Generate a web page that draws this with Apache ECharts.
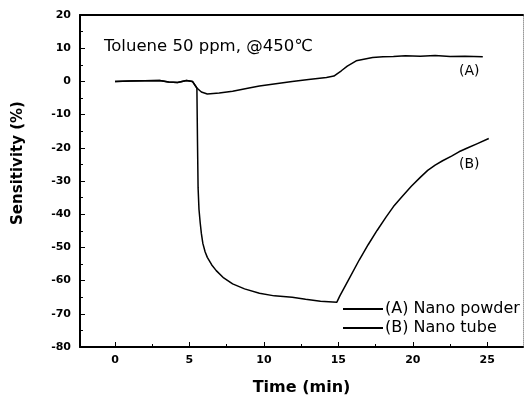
<!DOCTYPE html>
<html>
<head>
<meta charset="utf-8">
<script src="https://cdn.jsdelivr.net/npm/echarts@6/dist/echarts.min.js"></script>
<style>
html, body { margin: 0; padding: 0; background: #fff; }
#chart { width: 525px; height: 403px; }
</style>
</head>
<body>
<div id="chart"></div>
<script>
// values
var timeA = [0, 1, 2, 3, 3.6, 4.2, 4.8, 5.2, 5.5, 5.8, 6.2, 7, 7.9, 9, 9.7, 10.8, 11.9, 13, 14.2, 14.7, 15.2, 15.6, 16.2, 17.3, 18, 18.7, 19.5, 20.5, 21.5, 22.5, 23.5, 24.7];
var sensA = [0, 0.1, 0.2, 0.3, -0.2, -0.3, 0.3, 0, -2, -3.2, -3.8, -3.5, -3, -2, -1.4, -0.7, 0, 0.6, 1.2, 1.6, 3.2, 4.6, 6.2, 7.2, 7.4, 7.5, 7.7, 7.6, 7.8, 7.5, 7.6, 7.4];

var timeB = [0, 1, 2, 3, 3.6, 4.2, 4.8, 5.2, 5.5, 5.54, 5.58, 5.64, 5.72, 5.8, 5.9, 6.05, 6.2, 6.5, 6.8, 7.3, 7.9, 8.7, 9.7, 10.7, 11.9, 12.8, 13.8, 14.9,
    15.1, 15.7, 16.4, 17.0, 17.6, 18.2, 18.7, 19.3, 19.9, 20.5, 21.0, 21.5, 22.0, 22.6, 23.1, 23.7, 24.3, 25.1];
var sensB = [0, 0.1, 0.2, 0.3, -0.2, -0.3, 0.3, 0, -2, -18, -32, -38.5, -42.5, -45.8, -48.8, -51.3, -53, -55.3, -57, -59.2, -61, -62.5, -63.8, -64.6, -65, -65.6, -66.2, -66.5,
    -64.6, -59.6, -53.8, -49.2, -44.9, -40.9, -37.7, -34.6, -31.6, -28.9, -26.8, -25.2, -23.9, -22.5, -21.2, -20.0, -18.8, -17.2];

var xTicks = [0, 5, 10, 15, 20, 25];
var xMinorTicks = [2.5, 7.5, 12.5, 17.5, 22.5];
var nameA = '(A) Nano powder';
var nameB = '(B) Nano tube';

function pairs(xs, ys) {
    return xs.map(function (x, i) { return [x, ys[i]]; });
}

var chart = echarts.init(document.getElementById('chart'));
var font = 'DejaVu Sans, sans-serif';
var xMin = -2.35, xMax = 27.4;

chart.setOption({
    backgroundColor: '#fff',
    animation: false,
    title: {
        text: 'Toluene 50 ppm, @450\u2103',
        left: 99,
        top: 33,
        textStyle: { fontFamily: font, fontSize: 16.5, fontWeight: 'normal', color: '#000' }
    },
    legend: {
        orient: 'vertical',
        left: 338,
        top: 296,
        itemWidth: 40,
        itemHeight: 2,
        itemGap: 3,
        icon: 'rect',
        textStyle: { fontFamily: font, fontSize: 16, color: '#000', padding: [0, 0, 0, -3] },
        data: [nameA, nameB]
    },
    grid: { left: 80, top: 15, right: 2, bottom: 56 },
    xAxis: [{
        type: 'value',
        min: xMin,
        max: xMax,
        name: 'Time (min)',
        nameLocation: 'middle',
        nameGap: 33,
        nameTextStyle: { fontFamily: font, fontSize: 16, fontWeight: 'bold', color: '#000' },
        axisLine: { onZero: false, lineStyle: { color: '#000', width: 2 } },
        axisTick: { inside: true, length: 5, customValues: xTicks, lineStyle: { color: '#000' } },
        axisLabel: { customValues: xTicks, fontFamily: font, fontSize: 11, fontWeight: 'bold', color: '#000', margin: 8 },
        splitLine: { show: false }
    }, {
        type: 'value',
        position: 'bottom',
        min: xMin,
        max: xMax,
        axisLine: { show: false, onZero: false },
        axisTick: { inside: true, length: 3, customValues: xMinorTicks, lineStyle: { color: '#000' } },
        axisLabel: { show: false },
        splitLine: { show: false }
    }, {
        type: 'value',
        position: 'top',
        min: xMin,
        max: xMax,
        axisLine: { onZero: false, lineStyle: { color: '#000', width: 2 } },
        axisTick: { show: false },
        axisLabel: { show: false },
        splitLine: { show: false }
    }],
    yAxis: [{
        type: 'value',
        min: -80,
        max: 20,
        interval: 10,
        name: 'Sensitivity (%)',
        nameLocation: 'middle',
        nameGap: 54,
        nameTextStyle: { fontFamily: font, fontSize: 15, fontWeight: 'bold', color: '#000', padding: [0, 0, 0, 36] },
        axisLine: { onZero: false, lineStyle: { color: '#000', width: 2 } },
        axisTick: { inside: true, length: 5, lineStyle: { color: '#000' } },
        minorTick: { show: true, splitNumber: 2, length: 3, lineStyle: { color: '#000' } },
        axisLabel: { fontFamily: font, fontSize: 11, fontWeight: 'bold', color: '#000', margin: 9 },
        splitLine: { show: false }
    }, {
        type: 'value',
        position: 'right',
        min: -80,
        max: 20,
        interval: 10,
        axisLine: { show: true, onZero: false, lineStyle: { color: '#999', width: 1, type: 'dotted' } },
        axisTick: { show: false },
        axisLabel: { show: false },
        splitLine: { show: false }
    }],
    graphic: [
        { type: 'text', left: 459, top: 64, style: { text: '(A)', fontFamily: font, fontSize: 14, fill: '#000' } },
        { type: 'text', left: 459, top: 157, style: { text: '(B)', fontFamily: font, fontSize: 14, fill: '#000' } }
    ],
    series: [{
        name: nameA,
        type: 'line',
        symbol: 'none',
        data: pairs(timeA, sensA),
        lineStyle: { color: '#000', width: 1.5 },
        itemStyle: { color: '#000' }
    }, {
        name: nameB,
        type: 'line',
        symbol: 'none',
        data: pairs(timeB, sensB),
        lineStyle: { color: '#000', width: 1.5 },
        itemStyle: { color: '#000' }
    }]
});
</script>
</body>
</html>
